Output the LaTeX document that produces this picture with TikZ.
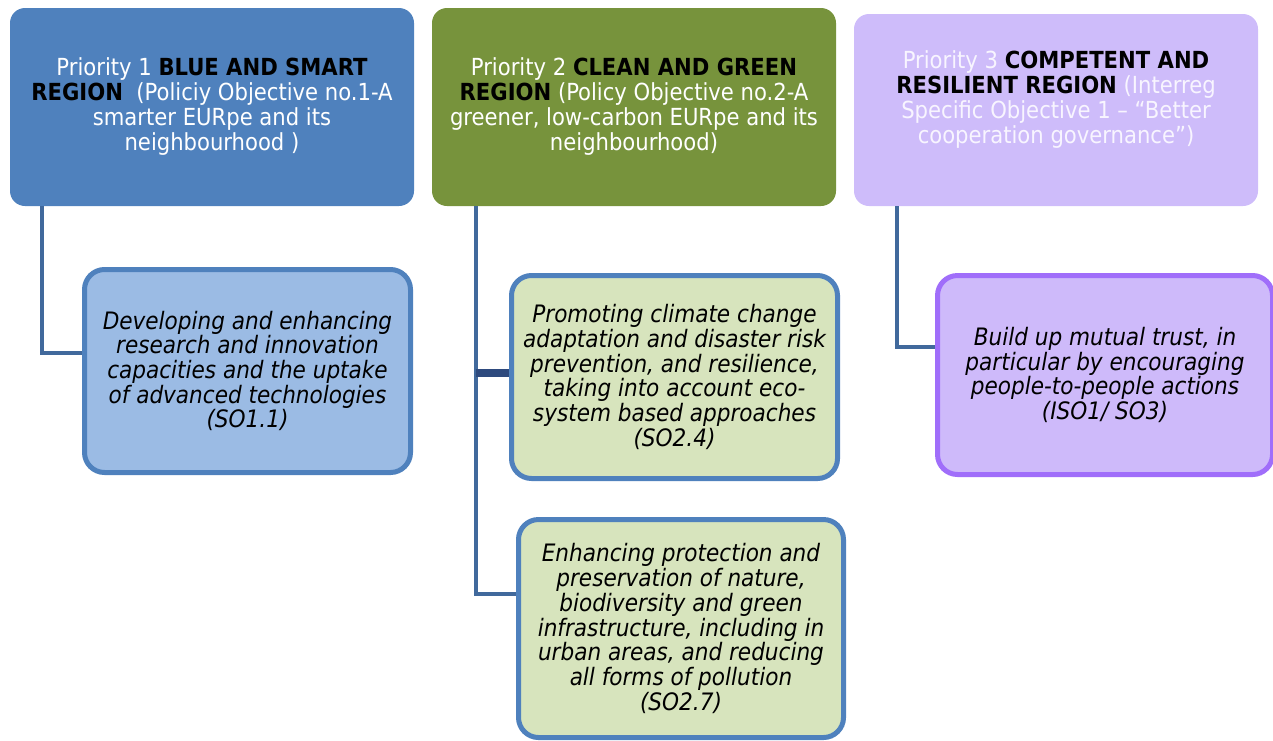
\documentclass[tikz,border=0pt]{standalone}
\usepackage{fontspec}
\setmainfont{DejaVu Sans Condensed}
\usepackage{tikz}
\usetikzlibrary{positioning}

\definecolor{prioblue}{RGB}{79,129,189}
\definecolor{priogreen}{RGB}{119,147,60}
\definecolor{priolilac}{RGB}{206,188,250}
\definecolor{soblue}{RGB}{155,187,228}
\definecolor{sogreen}{RGB}{215,228,189}
\definecolor{solilac}{RGB}{206,186,250}
\definecolor{lilacedge}{RGB}{160,110,250}
\definecolor{linkcol}{RGB}{65,105,156}
\definecolor{stubcol}{RGB}{46,74,126}
\definecolor{paletext}{RGB}{248,245,255}

\tikzset{
  prio/.style={rounded corners=15pt, align=center, text=white,
    minimum width=404pt, minimum height=198pt,
    font=\fontsize{23.5}{25}\selectfont},
  sobox/.style={rounded corners=20pt, draw=prioblue, line width=5pt, align=center,
    minimum width=326pt, minimum height=203pt,
    font=\fontsize{24}{24.7}\selectfont\itshape},
  link/.style={draw=linkcol, line width=4pt},
  stub/.style={draw=stubcol, line width=8pt}
}

\begin{document}
\begin{tikzpicture}[x=1pt,y=-1pt]
\useasboundingbox (0,0) rectangle (1273,740);

% priorities
\node[prio, fill=prioblue] (p1) at (212,107)
  {Priority 1 \textcolor{black}{\textbf{BLUE AND SMART}}\\
   \textcolor{black}{\textbf{REGION}}\ \ (Policiy Objective no.1-A\\
   smarter EURpe and its\\ neighbourhood )};
\node[prio, fill=priogreen] (p2) at (634,107)
  {Priority 2 \textcolor{black}{\textbf{CLEAN AND GREEN}}\\
   \textcolor{black}{\textbf{REGION}} (Policy Objective no.2-A\\
   greener, low-carbon EURpe and its\\ neighbourhood)};
\node[prio, fill=priolilac, text=paletext, minimum height=192pt] (p3) at (1056,110)
  {Priority 3 \textcolor{black}{\textbf{COMPETENT AND}}\\
   \textcolor{black}{\textbf{RESILIENT REGION}} (Interreg\\
   Specific Objective 1 -- “Better\\ cooperation governance”)\\ \mbox{}};

% specific objectives
\node[sobox, fill=soblue] (s11) at (247.5,371)
  {Developing and enhancing\\ research and innovation\\ capacities and the uptake\\
   of advanced technologies\\ (SO1.1)};
\node[sobox, fill=sogreen] (s24) at (674.5,377)
  {Promoting climate change\\ adaptation and disaster risk\\ prevention, and resilience,\\
   taking into account eco-\\ system based approaches\\ (SO2.4)};
\node[sobox, fill=sogreen, minimum width=325pt, minimum height=218pt] (s27) at (681,628.5)
  {Enhancing protection and\\ preservation of nature,\\ biodiversity and green\\
   infrastructure, including in\\ urban areas, and reducing\\ all forms of pollution\\ (SO2.7)};
\node[sobox, fill=solilac, draw=lilacedge, minimum width=335pt, minimum height=199pt] (s33) at (1105,375)
  {Build up mutual trust, in\\ particular by encouraging\\ people-to-people actions\\ (ISO1/ SO3)};

% connectors
\coordinate (trunk) at ([xshift=44pt]p2.south west);
\coordinate (t24) at ([yshift=4pt]s24.west);
\draw[link] ([xshift=32pt]p1.south west) |- ([yshift=18pt]s11.west);
\draw[link] (trunk) |- ([yshift=35pt]s27.west);
\draw[stub] (trunk |- t24) -- (t24);
\draw[link] ([xshift=43pt]p3.south west) |- ([yshift=28pt]s33.west);
\end{tikzpicture}
\end{document}
